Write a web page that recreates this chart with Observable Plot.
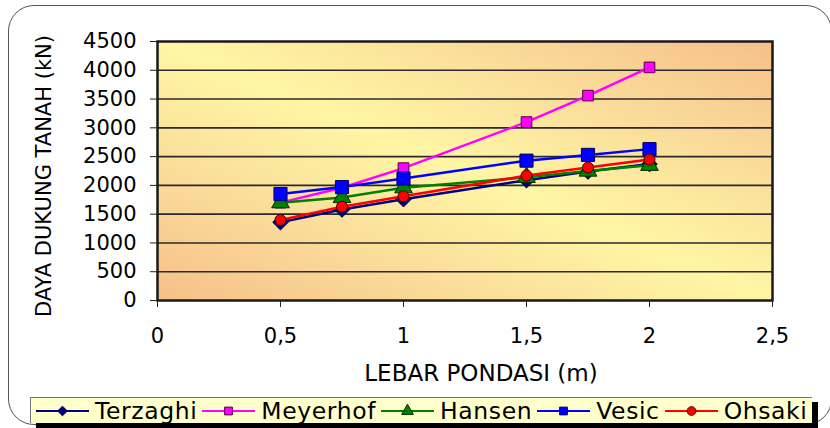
<!DOCTYPE html>
<html>
<head>
<meta charset="utf-8">
<script src="https://cdn.jsdelivr.net/npm/d3@7"></script>
<script src="https://cdn.jsdelivr.net/npm/@observablehq/plot@0.6"></script>
<style>
  body { margin: 0; background: #fff; }
  #wrap { position: relative; width: 830px; height: 428px; overflow: hidden; font-family: "DejaVu Sans", sans-serif; }
  #outline { position: absolute; left: 8px; top: 5px; width: 824px; height: 420px; border: 1.5px solid #555; border-radius: 26px; box-sizing: border-box; }
  #chart { position: absolute; left: 0; top: 0; }
  #legend { position: absolute; left: 30px; top: 397px; width: 782px; height: 26px; box-sizing: border-box;
            background: #FFFFCC; border-top: 1px solid #777; border-left: 1px solid #777;
            box-shadow: 6px 5px 0 #000; display: flex; align-items: center; overflow: hidden; white-space: nowrap; }
  .item { display: flex; align-items: center; margin-left: 5px; }
  .item svg { display: block; }
  .item span { font-size: 23.5px; letter-spacing: 0.6px; color: #000; margin-left: 6px; line-height: 26px; }
</style>
</head>
<body>
<div id="wrap">
  <div id="outline"></div>
  <div id="chart"></div>
  <div id="legend"></div>
</div>
<script>
// Foundation width (m)
const widths = [0.5, 0.75, 1, 1.5, 1.75, 2];

// Bearing capacity (kN) by method
const terzaghi = [1360, 1580, 1760, 2090, 2240, 2370];
const meyerhof = [1700, 1960, 2300, 3100, 3560, 4050];
const hansen   = [1700, 1790, 1960, 2140, 2250, 2350];
const vesic    = [1850, 1970, 2120, 2430, 2530, 2630];
const ohsaki   = [1400, 1630, 1810, 2170, 2310, 2450];

const methodNames = ["Terzaghi", "Meyerhof", "Hansen", "Vesic", "Ohsaki"];

const xTicks = [0, 0.5, 1, 1.5, 2, 2.5];
const yTicks = [0, 500, 1000, 1500, 2000, 2500, 3000, 3500, 4000, 4500];

const xTitle = "LEBAR PONDASI (m)";
const yTitle = "DAYA DUKUNG TANAH (kN)";

// Line/marker styling per method
const seriesStyle = [
  {color: "#000080", symbol: "diamond2", r: 7.0, stroke: "#000040"},
  {color: "#FF00FF", symbol: "square",   r: 6.0, stroke: "#4a0040"},
  {color: "#008000", symbol: "triangle", r: 6.6, stroke: "#003000"},
  {color: "#0000FF", symbol: "square",   r: 7.4, stroke: "#000060"},
  {color: "#FF0000", symbol: "circle",   r: 5.5, stroke: "#400000"}
];
const seriesValues = [terzaghi, meyerhof, hansen, vesic, ohsaki];

const series = methodNames.map((name, k) => ({
  name,
  rows: widths.map((w, i) => ({lebar: w, daya: seriesValues[k][i]})),
  ...seriesStyle[k]
}));

const commaFormat = d => String(d).replace(".", ",");

// Plot-area fill: peach corners (bottom-left, top-right) fading into pale yellow
function plotBackground(index, scales, values, dims) {
  const g = d3.create("svg:g");
  const grad = g.append("defs").append("linearGradient")
    .attr("id", "plotAreaFill")
    .attr("x1", 0).attr("y1", 1).attr("x2", 1).attr("y2", 0);
  grad.append("stop").attr("offset", "0%").attr("stop-color", "#F6BF8A");
  grad.append("stop").attr("offset", "30%").attr("stop-color", "#FBE19C");
  grad.append("stop").attr("offset", "50%").attr("stop-color", "#FFF6A4");
  grad.append("stop").attr("offset", "70%").attr("stop-color", "#FBE19C");
  grad.append("stop").attr("offset", "100%").attr("stop-color", "#F6BF8A");
  g.append("rect")
    .attr("x", dims.marginLeft)
    .attr("y", dims.marginTop)
    .attr("width", dims.width - dims.marginLeft - dims.marginRight)
    .attr("height", dims.height - dims.marginTop - dims.marginBottom)
    .attr("fill", "url(#plotAreaFill)");
  return g.node();
}

const chart = Plot.plot({
  width: 830,
  height: 395,
  marginLeft: 157,
  marginRight: 58,
  marginTop: 41,
  marginBottom: 95,
  style: {fontFamily: "'DejaVu Sans', sans-serif", fontSize: "21px", color: "#000", background: "transparent"},
  x: {domain: [0, 2.5]},
  y: {domain: [0, 4500]},
  marks: [
    plotBackground,
    Plot.ruleY(yTicks.filter(d => d > 0 && d < 4500), {stroke: "#2a2a2a", strokeWidth: 1.6}),
    Plot.frame({stroke: "#1a1a1a", strokeWidth: 2.5}),
    Plot.axisX({ticks: xTicks, tickFormat: commaFormat, tickSize: 7, tickPadding: 21, label: null, fontSize: 21, stroke: "#222"}),
    Plot.axisY({ticks: yTicks, tickFormat: d => String(d), tickSize: 7, tickPadding: 14, label: null, fontSize: 21, stroke: "#222"}),
    ...series.flatMap(s => [
      Plot.line(s.rows, {x: "lebar", y: "daya", stroke: s.color, strokeWidth: 2.5}),
      Plot.dot(s.rows, {x: "lebar", y: "daya", symbol: s.symbol, r: s.r, fill: s.color, stroke: s.stroke, strokeWidth: 1})
    ]),
    Plot.text([yTitle], {frameAnchor: "left", textAnchor: "middle", lineAnchor: "middle", dx: -113, dy: 5, rotate: -90, fontSize: 21, fill: "#000"}),
    Plot.text([xTitle], {frameAnchor: "bottom", textAnchor: "middle", lineAnchor: "middle", dx: 16, dy: 73, fontSize: 23, fill: "#000"})
  ]
});
document.getElementById("chart").appendChild(chart);

// Legend: line sample with marker, then method name
const legend = d3.select("#legend");
const symbolTypes = {diamond2: d3.symbolDiamond2, square: d3.symbolSquare, triangle: d3.symbolTriangle, circle: d3.symbolCircle};
series.forEach(s => {
  const item = legend.append("div").attr("class", "item");
  const svg = item.append("svg").attr("width", 53).attr("height", 20);
  svg.append("line").attr("x1", 0).attr("x2", 53).attr("y1", 10).attr("y2", 10)
    .attr("stroke", s.color).attr("stroke-width", 2);
  svg.append("path")
    .attr("transform", "translate(26.5,10)")
    .attr("d", d3.symbol(symbolTypes[s.symbol], 60)())
    .attr("fill", s.color).attr("stroke", s.stroke).attr("stroke-width", 1);
  item.append("span").text(s.name);
});
</script>
</body>
</html>
